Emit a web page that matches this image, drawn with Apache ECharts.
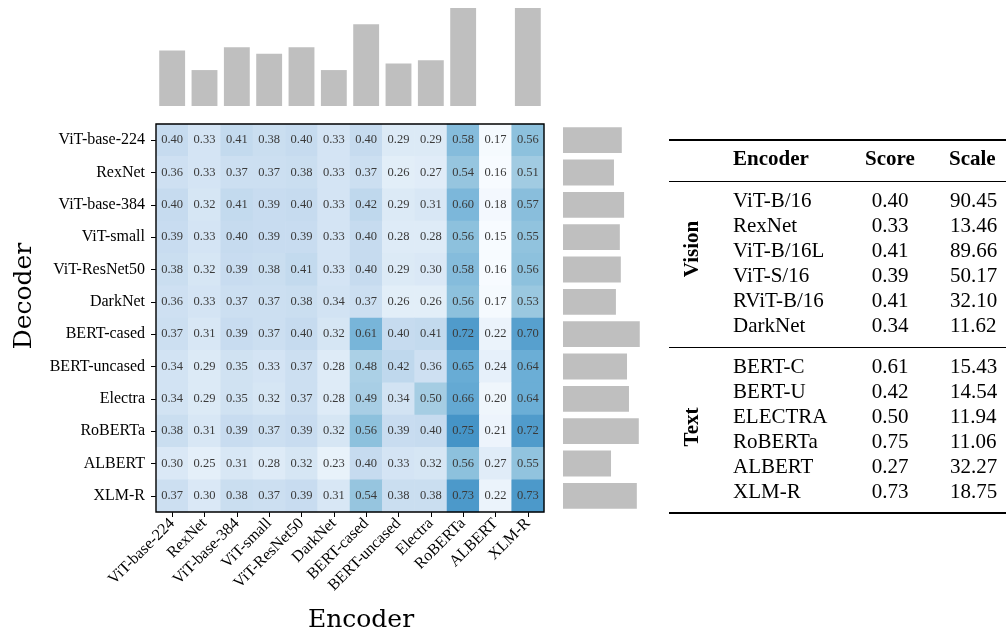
<!DOCTYPE html>
<html>
<head>
<meta charset="utf-8">
<script src="https://cdn.jsdelivr.net/npm/echarts@6/dist/echarts.min.js"></script>
<style>
  html, body { margin: 0; padding: 0; background: #fff; }
  #chart { width: 1006px; height: 637px; }
</style>
</head>
<body>
<div id="chart"></div>
<script>
// Encoder (columns) and decoder (rows) models
const encoders = ['ViT-base-224', 'RexNet', 'ViT-base-384', 'ViT-small', 'ViT-ResNet50', 'DarkNet',
  'BERT-cased', 'BERT-uncased', 'Electra', 'RoBERTa', 'ALBERT', 'XLM-R'];
const decoders = ['ViT-base-224', 'RexNet', 'ViT-base-384', 'ViT-small', 'ViT-ResNet50', 'DarkNet',
  'BERT-cased', 'BERT-uncased', 'Electra', 'RoBERTa', 'ALBERT', 'XLM-R'];

// Pairwise scores, one row per decoder
const scores = [
  [0.40, 0.33, 0.41, 0.38, 0.40, 0.33, 0.40, 0.29, 0.29, 0.58, 0.17, 0.56],
  [0.36, 0.33, 0.37, 0.37, 0.38, 0.33, 0.37, 0.26, 0.27, 0.54, 0.16, 0.51],
  [0.40, 0.32, 0.41, 0.39, 0.40, 0.33, 0.42, 0.29, 0.31, 0.60, 0.18, 0.57],
  [0.39, 0.33, 0.40, 0.39, 0.39, 0.33, 0.40, 0.28, 0.28, 0.56, 0.15, 0.55],
  [0.38, 0.32, 0.39, 0.38, 0.41, 0.33, 0.40, 0.29, 0.30, 0.58, 0.16, 0.56],
  [0.36, 0.33, 0.37, 0.37, 0.38, 0.34, 0.37, 0.26, 0.26, 0.56, 0.17, 0.53],
  [0.37, 0.31, 0.39, 0.37, 0.40, 0.32, 0.61, 0.40, 0.41, 0.72, 0.22, 0.70],
  [0.34, 0.29, 0.35, 0.33, 0.37, 0.28, 0.48, 0.42, 0.36, 0.65, 0.24, 0.64],
  [0.34, 0.29, 0.35, 0.32, 0.37, 0.28, 0.49, 0.34, 0.50, 0.66, 0.20, 0.64],
  [0.38, 0.31, 0.39, 0.37, 0.39, 0.32, 0.56, 0.39, 0.40, 0.75, 0.21, 0.72],
  [0.30, 0.25, 0.31, 0.28, 0.32, 0.23, 0.40, 0.33, 0.32, 0.56, 0.27, 0.55],
  [0.37, 0.30, 0.38, 0.37, 0.39, 0.31, 0.54, 0.38, 0.38, 0.73, 0.22, 0.73]
];

// Marginal averages: per encoder (top) and per decoder (right)
const encoderMeans = [0.37, 0.31, 0.38, 0.36, 0.38, 0.31, 0.45, 0.33, 0.34, 0.62, 0.20, 0.60];
const decoderMeans = [0.380, 0.356, 0.387, 0.374, 0.377, 0.362, 0.435, 0.396, 0.402, 0.432, 0.347, 0.426];

// Summary table
const visionNames = ['ViT-B/16', 'RexNet', 'ViT-B/16L', 'ViT-S/16', 'RViT-B/16', 'DarkNet'];
const visionScores = ['0.40', '0.33', '0.41', '0.39', '0.41', '0.34'];
const visionScales = ['90.45', '13.46', '89.66', '50.17', '32.10', '11.62'];
const textNames = ['BERT-C', 'BERT-U', 'ELECTRA', 'RoBERTa', 'ALBERT', 'XLM-R'];
const textScores = ['0.61', '0.42', '0.50', '0.75', '0.27', '0.73'];
const textScales = ['15.43', '14.54', '11.94', '11.06', '32.27', '18.75'];

const blues = ['#f7fbff', '#deebf7', '#c6dbef', '#9ecae1', '#6baed6', '#4292c6', '#2171b5', '#08519c', '#08306b'];
const SERIF = '"Liberation Serif", "Times New Roman", serif';
const TITLE_SERIF = '"DejaVu Serif", serif';

const heatData = [];
scores.forEach((row, r) => row.forEach((v, c) => heatData.push([c, r, v])));

// Heatmap geometry
const HM = { left: 156, top: 124, size: 388 };

// Table drawing
const graphics = [];
const T = { x0: 669, x1: 1010, nameX: 733, scoreX: 890, scaleX: 950 };
function txt(s, x, y, opts) {
  opts = opts || {};
  graphics.push({
    type: 'text', x: x, y: y, rotation: opts.rotation || 0, z: 50,
    style: {
      text: s, x: 0, y: 0, fill: '#000',
      font: (opts.bold ? 'bold ' : '') + (opts.size || 21) + 'px ' + (opts.family || SERIF),
      align: opts.align || 'left', verticalAlign: 'middle'
    }
  });
}
function rule(y, w) {
  graphics.push({ type: 'line', z: 50, shape: { x1: T.x0, y1: y, x2: T.x1, y2: y }, style: { stroke: '#000', lineWidth: w } });
}
rule(140, 2);
rule(181.5, 1);
rule(347.5, 1);
rule(513, 2);
txt('Encoder', T.nameX, 160, { bold: true });
txt('Score', T.scoreX, 160, { bold: true, align: 'center' });
txt('Scale', T.scaleX - 1, 160, { bold: true });
visionNames.forEach((n, i) => {
  const y = 201 + 25 * i;
  txt(n, T.nameX, y);
  txt(visionScores[i], T.scoreX, y, { align: 'center' });
  txt(visionScales[i], T.scaleX, y);
});
textNames.forEach((n, i) => {
  const y = 367 + 25 * i;
  txt(n, T.nameX, y);
  txt(textScores[i], T.scoreX, y, { align: 'center' });
  txt(textScales[i], T.scaleX, y);
});
txt('Vision', 693, 249, { bold: true, align: 'center', rotation: Math.PI / 2 });
txt('Text', 693, 427, { bold: true, align: 'center', rotation: Math.PI / 2 });

// Axis titles
txt('Decoder', 24, 296, { size: 25, family: TITLE_SERIF, align: 'center', rotation: Math.PI / 2 });
txt('Encoder', 361, 620, { size: 25, family: TITLE_SERIF, align: 'center' });

// Heatmap frame on top of the cells
graphics.push({
  type: 'rect', z: 100,
  shape: { x: HM.left, y: HM.top, width: HM.size, height: HM.size },
  style: { fill: null, stroke: '#000', lineWidth: 1.4 }
});

const chart = echarts.init(document.getElementById('chart'), null, { renderer: 'canvas' });
chart.setOption({
  animation: false,
  backgroundColor: '#fff',
  grid: [
    { left: HM.left, top: HM.top, width: HM.size, height: HM.size },
    { left: HM.left, top: 8, width: HM.size, height: 98 },
    { left: 563, top: HM.top, width: 98, height: HM.size }
  ],
  xAxis: [
    {
      gridIndex: 0, type: 'category', data: encoders,
      axisLine: { show: false },
      axisTick: { show: true, alignWithLabel: true, length: 5, lineStyle: { color: '#000', width: 1 } },
      axisLabel: { rotate: 45, margin: 9, color: '#000', fontSize: 16, fontFamily: SERIF, interval: 0 },
      splitLine: { show: false }
    },
    { gridIndex: 1, type: 'category', data: encoders, show: false },
    { gridIndex: 2, type: 'value', min: 0.2, max: 0.5, show: false }
  ],
  yAxis: [
    {
      gridIndex: 0, type: 'category', data: decoders, inverse: true,
      axisLine: { show: false },
      axisTick: { show: true, alignWithLabel: true, length: 5, lineStyle: { color: '#000', width: 1 } },
      axisLabel: { margin: 11, color: '#000', fontSize: 16, fontFamily: SERIF, interval: 0 },
      splitLine: { show: false }
    },
    { gridIndex: 1, type: 'value', min: 0.2, max: 0.5, show: false },
    { gridIndex: 2, type: 'category', data: decoders, inverse: true, show: false }
  ],
  visualMap: {
    show: false, type: 'continuous', min: 0.16, max: 1.12, dimension: 2,
    seriesIndex: 0, inRange: { color: blues }
  },
  series: [
    {
      type: 'heatmap', xAxisIndex: 0, yAxisIndex: 0, data: heatData,
      label: {
        show: true, color: '#3a3a3a', fontSize: 12.5, fontFamily: SERIF,
        formatter: p => p.value[2].toFixed(2)
      },
      itemStyle: { borderWidth: 0 }
    },
    {
      type: 'bar', xAxisIndex: 1, yAxisIndex: 1, data: encoderMeans,
      barWidth: '80%', clip: true, itemStyle: { color: '#bfbfbf' }
    },
    {
      type: 'bar', xAxisIndex: 2, yAxisIndex: 2, data: decoderMeans,
      barWidth: '80%', clip: true, itemStyle: { color: '#bfbfbf' }
    }
  ],
  graphic: graphics
});
</script>
</body>
</html>
